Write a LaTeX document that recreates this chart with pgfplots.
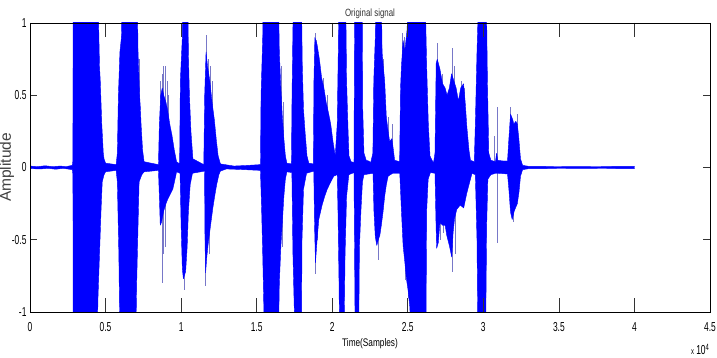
\documentclass[border=0pt]{standalone}
\usepackage{fontspec}
\setmainfont{Liberation Sans}
\newfontfamily\tickfont[FakeStretch=0.65]{Liberation Sans}
\newfontfamily\labfont[FakeStretch=0.75]{Liberation Sans}
\usepackage{pgfplots}
\pgfplotsset{compat=1.18}
\definecolor{sig}{RGB}{0,0,255}
\definecolor{spk}{RGB}{120,120,200}
\begin{document}
\begin{tikzpicture}
\begin{axis}[name=ax, scale only axis, width=680pt, height=289pt,
  xmin=0, xmax=45000, ymin=-1, ymax=1,
  xtick={0,5000,...,45000}, xticklabels={0,0.5,1,1.5,2,2.5,3,3.5,4,4.5},
  ytick={-1,-0.5,0,0.5,1}, yticklabels={-1,-0.5,0,0.5,1},
  scaled x ticks=false,
  tick align=inside, major tick length=7pt,
  tick style={line width=0.6pt, black!80},
  axis line style={line width=0.8pt},
  ticklabel style={font=\tickfont\fontsize{13}{13}\selectfont, text=black},
  xticklabel style={anchor=base, yshift=-20pt},
  title={Original signal},
  title style={font=\labfont\fontsize{10.5}{12}\selectfont, text=black!80, at={(axis description cs:0.5,1)}, anchor=base, yshift=0pt},
  xlabel={Time(Samples)},
  xlabel style={font=\labfont\fontsize{11}{12}\selectfont, at={(axis description cs:0.5,0)}, anchor=base, yshift=-35pt},
  ylabel={Amplitude},
  ylabel style={font=\fontsize{15.5}{16}\selectfont, text=black!75, at={(axis description cs:-0.034,0.5)}, anchor=center},
  clip=true]
\addplot[spk, ycomb, line width=0.5pt, no markers, forget plot] coordinates {
(7200,0.75) (7250,0.55)
(8650,0.6) (8750,0.65) (8850,0.7) (8950,0.7) (9050,0.6) (9150,0.5)
(8720,-0.8) (8820,-0.6) (8930,-0.55)
(10200,-0.85)
(11650,0.92) (11800,0.75) (11950,0.7) (12050,0.6) (11620,-0.82) (11850,-0.6)
(16600,0.7) (16750,0.45) (16700,-0.55)
(18850,0.93) (18950,0.88) (19400,0.62) (19650,0.5) (18880,-0.74) (18980,-0.5)
(23350,0.75) (23700,0.35) (23950,0.3) (23050,-0.64)
(24650,0.93) (24750,0.9) (24800,-0.78) (25050,-0.9)
(26950,0.86) (27250,0.65) (27850,0.6) (27950,0.83) (28050,0.7) (28550,0.6) (28750,0.55)
(27150,-0.5) (27350,-0.45) (27950,-0.72) (28150,-0.6)
(30700,0.22) (30900,0.42) (30920,-0.52) (31750,0.42) (32250,0.37) (31950,-0.38)
};
\addplot[sig, fill=sig, line width=0.4pt, line join=bevel, no markers] coordinates {
(0,0.01) (500,0.006) (1000,0.012) (1500,0.006) (2000,0.01) (2400,0.006) (2800,0.015)
(2840,0.05) (2850,1.2) (4500,1.2) (4550,0.95) (4600,0.7) (4650,0.6) (4700,0.45) (4750,0.3) (4800,0.2)
(4850,0.1) (4900,0.06) (5000,0.03) (5700,0.02)
(5780,0.1) (5850,0.5) (5950,0.8) (6050,0.9) (6110,1.2) (7100,1.2) (7150,0.8) (7250,0.5) (7300,0.42)
(7350,0.3) (7450,0.12) (7550,0.04) (8500,0.02)
(8560,0.3) (8650,0.5) (8750,0.55) (8850,0.5) (9000,0.45) (9100,0.4) (9250,0.3) (9400,0.22) (9550,0.12)
(9700,0.04) (9900,0.025)
(9950,0.6) (10080,0.9) (10110,1.2) (10450,1.2) (10480,0.8) (10550,0.5) (10650,0.25) (10780,0.06) (11500,0.02)
(11560,0.5) (11650,0.8) (11750,0.7) (11900,0.6) (12050,0.45) (12200,0.33) (12330,0.19) (12450,0.08)
(12600,0.025) (13500,0.01) (14300,0.014) (15250,0.02)
(15290,0.5) (15400,0.9) (15440,1.2) (16440,1.2) (16500,0.8) (16600,0.55) (16700,0.35) (16800,0.2)
(16900,0.08) (17000,0.03) (17300,0.025)
(17340,0.5) (17430,1.2) (17960,1.2) (18020,0.7) (18100,0.4) (18200,0.25) (18330,0.08) (18450,0.03) (18750,0.025)
(18790,0.6) (18850,0.9) (19000,0.85) (19150,0.75) (19300,0.62) (19450,0.55) (19600,0.45) (19750,0.38)
(19900,0.3) (20050,0.18) (20200,0.08)
(20330,0.3) (20400,0.8) (20440,1.2) (20890,1.2) (20950,0.6) (21050,0.25) (21110,0.08) (21250,0.04) (21440,0.035)
(21470,0.8) (21500,1.2) (21980,1.2) (22020,0.4) (22100,0.1) (22250,0.05) (22400,0.045) (22550,0.035)
(22690,0.1) (22750,0.6) (22850,0.9) (22900,1.2) (23250,1.2) (23300,0.8) (23360,0.72) (23470,0.6) (23580,0.35)
(23700,0.25) (23800,0.18) (23950,0.2) (24050,0.12) (24130,0.05) (24460,0.04)
(24520,0.55) (24580,0.7) (24690,0.88) (24800,0.8) (24950,0.95) (25050,1.2) (26150,1.2) (26250,0.7)
(26360,0.3) (26470,0.08) (26700,0.03)
(26800,0.1) (26880,0.72) (26950,0.75) (27130,0.68) (27300,0.58) (27470,0.55) (27600,0.5) (27750,0.55)
(27900,0.65) (28050,0.6) (28200,0.55) (28350,0.46) (28500,0.55) (28690,0.58) (28800,0.45) (28910,0.28)
(29050,0.12) (29150,0.05) (29400,0.04)
(29470,0.3) (29580,0.8) (29690,1.2) (30200,1.2) (30270,0.6) (30360,0.1) (30500,0.05) (30800,0.04)
(30880,0.1) (30950,0.05) (31300,0.045) (31600,0.045)
(31690,0.2) (31800,0.37) (31950,0.33) (32020,0.3) (32150,0.32) (32250,0.3) (32350,0.2) (32460,0.06)
(32600,0.015) (33000,0.008) (36000,0.006) (40000,0.008)
(40000,-0.008) (36500,-0.006) (33000,-0.008) (32600,-0.015) (32460,-0.06) (32360,-0.17) (32250,-0.25)
(32050,-0.3) (31910,-0.36) (31800,-0.31) (31690,-0.15) (31600,-0.045) (31000,-0.04) (30800,-0.04)
(30500,-0.05) (30300,-0.08) (30220,-0.4) (30150,-1.2) (29640,-1.2) (29580,-0.5) (29470,-0.05)
(29250,-0.04) (29100,-0.1) (28900,-0.18) (28700,-0.28) (28467,-0.26) (28244,-0.29) (28100,-0.35)
(28000,-0.45) (27910,-0.62) (27750,-0.54) (27580,-0.47) (27470,-0.4) (27300,-0.4) (27130,-0.38)
(27020,-0.52) (26910,-0.56) (26870,-0.4) (26800,-0.04) (26500,-0.035) (26350,-0.08) (26250,-0.3)
(26200,-1.2) (25240,-1.2) (25130,-0.96) (25020,-0.85) (24910,-0.77) (24800,-0.65) (24690,-0.54)
(24580,-0.3) (24470,-0.04) (24000,-0.04) (23700,-0.06) (23580,-0.12) (23470,-0.2) (23360,-0.31)
(23250,-0.4) (23150,-0.47) (23050,-0.5) (22950,-0.54) (22850,-0.48) (22760,-0.3) (22700,-0.04)
(22400,-0.045) (22100,-0.05) (22000,-0.1) (21900,-0.3) (21800,-0.55) (21750,-1.2) (21520,-1.2)
(21480,-0.6) (21440,-0.035) (21100,-0.05) (20950,-0.2) (20850,-0.6) (20780,-1.2) (20490,-1.2)
(20450,-0.8) (20380,-0.3) (20330,-0.05) (20100,-0.06) (19900,-0.1) (19670,-0.15) (19500,-0.2)
(19330,-0.26) (19110,-0.36) (19000,-0.5) (18890,-0.66) (18830,-0.4) (18780,-0.025) (18300,-0.04)
(18100,-0.15) (18000,-0.5) (17960,-1.2) (17540,-1.2) (17400,-0.6) (17330,-0.035) (17000,-0.03)
(16900,-0.08) (16800,-0.2) (16670,-0.43) (16600,-0.55) (16500,-0.8) (16440,-1.2) (15520,-1.2)
(15400,-0.6) (15330,-0.3) (15250,-0.02) (14000,-0.014) (13000,-0.01) (12600,-0.025) (12500,-0.05)
(12350,-0.12) (12220,-0.2) (12100,-0.28) (12000,-0.36) (11900,-0.44) (11780,-0.54) (11700,-0.62)
(11620,-0.73) (11580,-0.5) (11550,-0.025) (10750,-0.04) (10600,-0.12) (10480,-0.31) (10400,-0.55)
(10300,-0.72) (10150,-0.77) (10080,-0.7) (10000,-0.4) (9930,-0.04) (9700,-0.03) (9600,-0.08)
(9450,-0.15) (9300,-0.18) (9110,-0.22) (9000,-0.25) (8850,-0.3) (8700,-0.38) (8620,-0.4) (8560,-0.2)
(8500,-0.02) (7550,-0.03) (7400,-0.05) (7220,-0.1) (7150,-0.4) (7060,-0.8) (7000,-1.2) (5950,-1.2)
(5880,-0.6) (5780,-0.1) (5700,-0.02) (5000,-0.03) (4900,-0.05) (4780,-0.1) (4700,-0.3) (4600,-0.6)
(4500,-0.9) (4440,-1.2) (2860,-1.2) (2840,-0.05) (2800,-0.015) (2200,-0.006) (1700,-0.012) (1200,-0.006)
(700,-0.01) (0,-0.008)
};
\end{axis}
\begin{axis}[at={(ax.south west)}, anchor=south west, scale only axis, width=680pt, height=289pt,
  xmin=0, xmax=45000, ymin=-1, ymax=1,
  xtick={0,5000,...,45000}, xticklabels={}, ytick=\empty,
  scaled x ticks=false,
  tick align=inside, major tick length=14pt,
  tick style={line width=0.6pt, black!80},
  axis line style={line width=0.8pt}]
\end{axis}
\node[font=\tickfont\fontsize{13}{13}\selectfont, anchor=base east] at ([xshift=3pt,yshift=-43pt]ax.south east) {{\fontsize{9}{9}\selectfont x}\,10\textsuperscript{4}};
\pgfresetboundingbox
\path[use as bounding box] ([xshift=-30pt,yshift=-46pt]ax.south west) rectangle ([xshift=7pt,yshift=23pt]ax.north east);
\end{tikzpicture}
\end{document}
